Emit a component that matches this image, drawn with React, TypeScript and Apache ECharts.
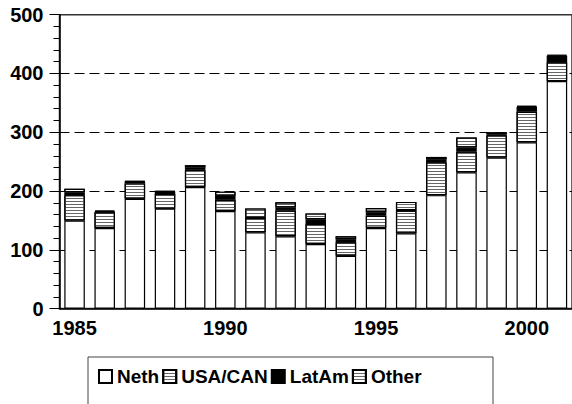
import React, { useEffect, useRef } from "react";
import * as echarts from "echarts";

const years = ["1985", "1986", "1987", "1988", "1989", "1990", "1991", "1992", "1993", "1994", "1995", "1996", "1997", "1998", "1999", "2000", "2001"];
const neth = [150, 137, 187, 170, 207, 166, 130, 123, 110, 90, 137, 128, 193, 232, 257, 283, 387];
const usaCan = [43, 27, 26, 25, 29, 19, 24, 44, 34, 23, 21, 39, 56, 35, 38, 52, 32];
const latAm = [5, 1, 3, 4, 4, 7, 0.5, 5, 8, 5, 6, 0.5, 5, 7, 1.5, 8, 11];
const other = [6, 2, 1, 1, 4, 7, 16, 9, 10, 5, 7, 14, 4, 17, 3.5, 2, 2];

const FONT = "'Liberation Sans', Arial, sans-serif";

const hatch = {
  symbol: "rect",
  symbolSize: 1,
  dashArrayX: [1, 0],
  dashArrayY: [1, 2],
  rotation: 0,
  color: "#666",
};

export default function App() {
  const ref = useRef<HTMLDivElement>(null);
  useEffect(() => {
    if (!ref.current) return;
    const chart = echarts.init(ref.current, null, { renderer: "svg" });
    const barBase = {
      type: "bar",
      stack: "total",
      barWidth: 20.5,
      emphasis: { disabled: true },
    };
    chart.setOption({
      animation: false,
      backgroundColor: "#fff",
      grid: {
        left: 59.5,
        right: -2.7,
        top: 14.7,
        bottom: 95.4,
        show: true,
        borderColor: "#333",
        borderWidth: 1.5,
        backgroundColor: "transparent",
      },
      legend: {
        left: 98,
        top: 367,
        padding: 0,
        itemWidth: 13,
        itemHeight: 13,
        itemGap: 3,
        icon: "rect",
        textStyle: { fontFamily: FONT, fontSize: 19, fontWeight: "bold", color: "#000" },
        data: ["Neth", "USA/CAN", "LatAm", "Other"],
      },
      graphic: [
        {
          type: "rect",
          shape: { x: 88, y: 357, width: 405, height: 60 },
          style: { fill: "none", stroke: "#444", lineWidth: 1 },
          silent: true,
        },
      ],
      xAxis: {
        type: "category",
        data: years,
        axisLine: { lineStyle: { color: "#000", width: 1.5 } },
        axisTick: { show: false },
        axisLabel: {
          interval: (index: number) => index % 5 === 0,
          margin: 9,
          fontFamily: FONT,
          fontSize: 20,
          fontWeight: "bold",
          color: "#000",
        },
      },
      yAxis: {
        type: "value",
        min: 0,
        max: 500,
        interval: 100,
        axisLine: { show: true, lineStyle: { color: "#000", width: 1.5 } },
        axisTick: { show: true, length: 10, lineStyle: { color: "#000" } },
        minorTick: { show: true, splitNumber: 5, length: 6, lineStyle: { color: "#000" } },
        splitLine: {
          show: true,
          showMinLine: false,
          showMaxLine: false,
          lineStyle: { color: "#000", type: [10, 5], width: 1 },
        },
        axisLabel: {
          margin: 16,
          fontFamily: FONT,
          fontSize: 20,
          fontWeight: "bold",
          color: "#000",
        },
      },
      series: [
        {
          ...barBase,
          name: "Neth",
          data: neth,
          itemStyle: { color: "#fff", borderColor: "#000", borderWidth: 1.2 },
        },
        {
          ...barBase,
          name: "USA/CAN",
          data: usaCan,
          itemStyle: { color: "#fff", borderColor: "#000", borderWidth: 1.2, decal: hatch },
        },
        {
          ...barBase,
          name: "LatAm",
          data: latAm,
          itemStyle: { color: "#000", borderColor: "#000", borderWidth: 1.2 },
        },
        {
          ...barBase,
          name: "Other",
          data: other,
          itemStyle: { color: "#fff", borderColor: "#000", borderWidth: 1.2, decal: hatch },
        },
      ],
    });
    return () => chart.dispose();
  }, []);
  return (
    <div
      ref={ref}
      style={{ position: "absolute", left: 0, top: 0, width: 572, height: 404 }}
    />
  );
}
